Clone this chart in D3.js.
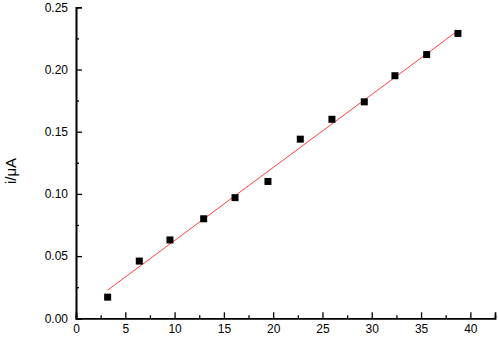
<!DOCTYPE html>
<html lang="en">
<head>
    <meta charset="UTF-8">
    <title>i vs concentration</title>
    <script src="https://d3js.org/d3.v7.min.js"></script>
    <style>
        body { margin: 0; background: #fff; }
        svg { display: block; font-family: Arial, 'Liberation Sans', sans-serif; }
        .tick-label { font-size: 12px; fill: #000; }
        .axis-title { font-size: 15px; fill: #000; }
    </style>
</head>
<body>
    <svg id="chart" width="498" height="338"></svg>
    <script>
        // data
        const xVals = [3.21, 6.42, 9.53, 12.95, 16.13, 19.47, 22.75, 25.96, 29.24, 32.35, 35.57, 38.74];
        const yVals = [0.017, 0.046, 0.063, 0.080, 0.097, 0.110, 0.144, 0.160, 0.174, 0.195, 0.212, 0.229];
        const xTicks = [0, 5, 10, 15, 20, 25, 30, 35, 40];
        const yTicks = [0.00, 0.05, 0.10, 0.15, 0.20, 0.25];

        const svg = d3.select("#chart");
        const mLeft = 76, mRight = 495, mTop = 7.3, mBottom = 318.3;

        const x = d3.scaleLinear().domain([0, 42.5]).range([mLeft, mRight]);
        const y = d3.scaleLinear().domain([0, 0.25]).range([mBottom, mTop]);

        // inward ticks, major + one minor between
        const xAxis = d3.axisBottom(x).tickValues(xTicks).tickSize(-6).tickFormat(d3.format("d"));
        const xMinor = d3.axisBottom(x).tickValues(d3.range(2.5, 42.5, 5)).tickSize(-3).tickFormat("");
        const yAxis = d3.axisLeft(y).tickValues(yTicks).tickSize(-6).tickFormat(d3.format(".2f"));
        const yMinor = d3.axisLeft(y).tickValues(d3.range(0.025, 0.25, 0.05)).tickSize(-3).tickFormat("");

        const gx = svg.append("g").attr("transform", `translate(0,${mBottom})`);
        gx.call(xAxis);
        gx.append("g").call(xMinor);
        const gy = svg.append("g").attr("transform", `translate(${mLeft},0)`);
        gy.call(yAxis);
        gy.append("g").call(yMinor);

        svg.selectAll(".domain").attr("stroke", "#000").attr("stroke-width", 1.6);
        svg.selectAll(".tick line").attr("stroke", "#000").attr("stroke-width", 1.3);
        svg.selectAll(".tick text").attr("class", "tick-label").style("font-size", "12px").attr("fill", "#000");
        gx.selectAll(".tick text").attr("dy", null).attr("y", 15);
        gy.selectAll(".tick text").attr("x", -8);

        // least squares fit
        const mx = d3.mean(xVals), my = d3.mean(yVals);
        const slope = d3.sum(xVals, (d, i) => (d - mx) * (yVals[i] - my)) / d3.sum(xVals, d => (d - mx) ** 2);
        const icpt = my - slope * mx;
        const x0 = d3.min(xVals), x1 = d3.max(xVals);
        svg.append("line")
            .attr("x1", x(x0)).attr("y1", y(icpt + slope * x0))
            .attr("x2", x(x1)).attr("y2", y(icpt + slope * x1))
            .attr("stroke", "#ff4040").attr("stroke-width", 1);

        const sz = 7;
        svg.selectAll("rect.pt")
            .data(xVals.map((d, i) => [d, yVals[i]]))
            .enter().append("rect")
            .attr("class", "pt")
            .attr("x", d => x(d[0]) - sz / 2)
            .attr("y", d => y(d[1]) - sz / 2)
            .attr("width", sz).attr("height", sz)
            .attr("fill", "#000");

        svg.append("text")
            .attr("class", "axis-title")
            .attr("transform", "translate(16,171) rotate(-90)")
            .attr("text-anchor", "middle")
            .text("i/μA");
    </script>
</body>
</html>
